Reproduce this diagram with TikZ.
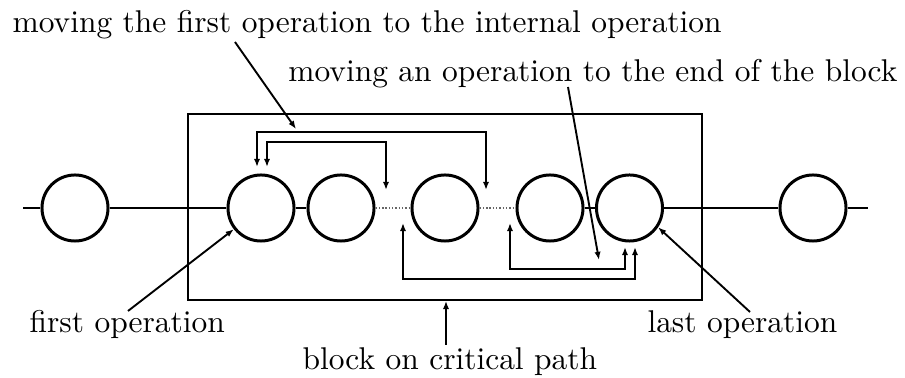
\documentclass[tikz,border=0pt]{standalone}
\usetikzlibrary{arrows.meta}
\begin{document}
\begin{tikzpicture}[x=0.318pt,y=-0.318pt,
  op/.style={circle,draw,line width=0.95pt,minimum size=21pt,inner sep=0pt},
  link/.style={line width=0.6pt},
  gap/.style={line width=0.45pt,black!60,dash pattern=on 0.45pt off 0.6pt},
  frame/.style={draw,line width=0.6pt,inner sep=0pt,minimum width=514*0.318pt,minimum height=186*0.318pt},
  lbl/.style={inner sep=0pt},
  ptr/.style={line width=0.6pt,-{Latex[length=2.6pt,width=2pt]}},
  swap/.style={line width=0.6pt,{Latex[length=2.6pt,width=2pt]}-{Latex[length=2.6pt,width=2pt]}}]
\useasboundingbox (0,0) rectangle (905,378);

% the block on the critical path
\node[frame] (blk) at (445,207) {};

% operations along the path
\node[op] (c1) at (75,208) {};
\node[op] (c2) at (261,208) {};
\node[op] (c3) at (341,208) {};
\node[op] (c4) at (445,208) {};
\node[op] (c5) at (550,208) {};
\node[op] (c6) at (629.5,208) {};
\node[op] (c7) at (813,208) {};
\coordinate (pin) at (23,208);
\coordinate (pout) at (868,208);

\draw[link] (pin) -- (c1) -- (c2) -- (c3);
\draw[gap] (c3) -- (c4);
\draw[gap] (c4) -- (c5);
\draw[link] (c5) -- (c6) -- (c7) -- (pout);

% labels
\node[lbl,anchor=base west] (tfirst) at (12,33) {moving the first operation to the internal operation};
\node[lbl,anchor=base east] (tend) at (898,82) {moving an operation to the end of the block};
\node[lbl,anchor=base west] (tfo) at (29,333) {first operation};
\node[lbl,anchor=base east] (tlo) at (838,333) {last operation};
\node[lbl,anchor=base west] (tblk) at (302,370) {block on critical path};

% moves of the first operation
\coordinate (a1s) at (386,190);
\coordinate (a1e) at (267,167);
\coordinate (a2s) at (486,190);
\coordinate (a2e) at (257,167);
\draw[swap] (a1s) |- (267,142) -- (a1e);
\draw[swap] (a2s) |- (257,132) -- (a2e);

% moves of an operation to the end of the block
\coordinate (b1s) at (510,223);
\coordinate (b1e) at (625,247);
\coordinate (b2s) at (403,223);
\coordinate (b2e) at (635,247);
\draw[swap] (b1s) |- (625,269) -- (b1e);
\draw[swap] (b2s) |- (635,279) -- (b2e);

% pointers from the labels
\coordinate (p1) at (235,42);
\coordinate (p1t) at (296,129);
\draw[ptr] (p1) -- (p1t);
\coordinate (p2) at (568,87);
\coordinate (p2t) at (599,260);
\draw[ptr] (p2) -- (p2t);
\coordinate (p3) at (128,311);
\draw[ptr] (p3) -- (c2.218);
\coordinate (p4) at (750,312);
\draw[ptr] (p4) -- (c6.326);
\coordinate (p5) at (446,345);
\draw[ptr] (p5) -- (blk.south -| p5);
\end{tikzpicture}
\end{document}
